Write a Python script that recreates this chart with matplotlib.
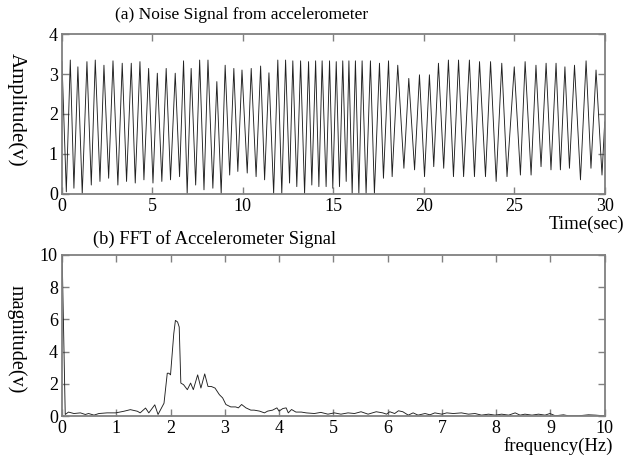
"""
Accelerometer noise signal and its FFT, two stacked panels.
"""
import numpy as np
import matplotlib
matplotlib.use("Agg")
import matplotlib.pyplot as plt

plt.rcParams['font.family'] = ['Liberation Serif', 'DejaVu Serif']

# (a) signal: peaks and troughs
peak_t = [0.0, 0.46, 0.88, 1.38, 1.84, 2.32, 2.82, 3.33, 3.83, 4.31, 4.79,
          5.27, 5.76, 6.26, 6.72, 7.14, 7.61, 8.07, 8.56, 9.02, 9.50, 9.95,
          10.46, 10.98, 11.44, 11.93, 12.36, 12.76, 13.19, 13.63, 14.02, 14.38,
          14.79, 15.16, 15.52, 15.86, 16.22, 16.59, 17.05, 17.55, 18.05, 18.56,
          19.17, 19.76, 20.31, 20.81, 21.36, 21.92, 22.52, 23.08, 23.69, 24.31,
          25.0, 25.6, 26.2, 26.76, 27.31, 27.8, 28.33, 28.97, 29.52]
peak_v = [3.31, 3.35, 3.18, 3.31, 3.35, 3.22, 3.33, 3.27, 3.27, 3.31, 3.14,
          3.02, 3.14, 3.02, 3.33, 3.14, 3.35, 3.35, 2.81, 3.22, 3.14, 3.10,
          3.14, 3.20, 3.03, 3.35, 3.35, 3.33, 3.33, 3.31, 3.33, 3.33,
          3.33, 3.31, 3.33, 3.33, 3.33, 3.33, 3.33, 3.27, 3.33, 3.22,
          2.89, 2.98, 2.98, 3.27, 3.35, 3.35, 3.35, 3.31, 3.31, 3.27,
          3.18, 3.31, 3.22, 3.27, 3.27, 3.18, 3.22, 3.33, 3.10]
trough_t = [0.24, 0.66, 1.12, 1.62, 2.10, 2.58, 3.09, 3.57, 4.05, 4.53,
            5.03, 5.52, 6.0, 6.5, 6.92, 7.39, 7.85, 8.34, 8.8, 9.27, 9.72,
            10.24, 10.73, 11.2, 11.7, 12.15, 12.58, 12.98, 13.41, 13.81, 14.2,
            14.6, 14.97, 15.34, 15.71, 16.04, 16.41, 16.81, 17.27, 17.77, 18.25,
            18.9, 19.49, 20.04, 20.55, 21.1, 21.64, 22.2, 22.8, 23.41, 24.0,
            24.6, 25.34, 25.93, 26.48, 27.03, 27.55, 28.05, 28.66, 29.24, 29.85]
trough_v = [0.05, 0.14, 0.0, 0.22, 0.31, 0.39, 0.22, 0.31, 0.27, 0.35,
            0.27, 0.31, 0.35, 0.43, 0.0, 0.22, 0.10, 0.14, 0.0, 0.47, 0.56,
            0.52, 0.43, 0.35, 0.0, 0.0, 0.27, 0.18, 0.0, 0.22, 0.18,
            0.18, 0.14, 0.18, 0.31, 0.0, 0.0, 0.0, 0.0, 0.39, 0.43,
            0.64, 0.60, 0.43, 0.68, 0.64, 0.43, 0.43, 0.43, 0.43, 0.31,
            0.43, 0.47, 0.47, 0.68, 0.60, 0.60, 0.64, 0.35, 0.64, 0.47]
end_t = [30.0]
end_v = [1.8]

# (b) FFT magnitude
freq = [0.0, 0.06, 0.12, 0.22, 0.34, 0.43, 0.49, 0.59, 0.68, 0.83, 0.99,
        1.14, 1.26, 1.39, 1.44, 1.54, 1.60, 1.71, 1.77, 1.88, 1.94, 1.97,
        2.0, 2.06, 2.09, 2.13, 2.16, 2.19, 2.24, 2.31, 2.37, 2.42, 2.5,
        2.56, 2.63, 2.69, 2.75, 2.82, 2.9, 2.96, 3.02, 3.11, 3.2, 3.25,
        3.31, 3.39, 3.48, 3.54, 3.64, 3.73, 3.79, 3.88, 3.96, 4.0, 4.07,
        4.13, 4.17, 4.23, 4.31, 4.41, 4.5, 4.65, 4.77, 4.9, 5.02, 5.14,
        5.27, 5.39, 5.51, 5.64, 5.79, 5.91, 5.98, 6.04, 6.13, 6.2, 6.28,
        6.38, 6.47, 6.56, 6.69, 6.78, 6.87, 7.0, 7.09, 7.21, 7.36, 7.49,
        7.61, 7.73, 7.86, 7.98, 8.1, 8.23, 8.35, 8.44, 8.53, 8.66, 8.78,
        8.9, 8.99, 9.09, 9.24, 9.33, 9.52, 9.7, 9.83, 9.98, 10.0]
mag = [10.5, 0.10, 0.25, 0.16, 0.20, 0.10, 0.16, 0.06, 0.16, 0.20, 0.20,
       0.30, 0.40, 0.30, 0.20, 0.50, 0.20, 0.70, 0.10, 0.80, 2.66, 2.66,
       2.56, 5.12, 5.94, 5.84, 5.53, 2.05, 1.95, 1.64, 2.05, 1.64, 2.56,
       1.74, 2.62, 1.84, 1.84, 1.74, 1.33, 1.13, 0.72, 0.57, 0.57, 0.51,
       0.72, 0.51, 0.37, 0.37, 0.31, 0.20, 0.31, 0.37, 0.51, 0.31, 0.47,
       0.51, 0.20, 0.41, 0.25, 0.25, 0.20, 0.16, 0.23, 0.12, 0.20, 0.12,
       0.20, 0.16, 0.27, 0.12, 0.27, 0.20, 0.12, 0.27, 0.16, 0.33, 0.27,
       0.06, 0.20, 0.06, 0.16, 0.08, 0.20, 0.12, 0.20, 0.16, 0.20, 0.12,
       0.16, 0.06, 0.12, 0.06, 0.12, 0.06, 0.20, 0.06, 0.12, 0.06, 0.12,
       0.06, 0.16, 0.02, 0.08, 0.02, 0.02, 0.08, 0.06, 0.02, 0.02]

# interleave peaks/troughs into one trace
t = np.concatenate([peak_t, trough_t, end_t])
v = np.concatenate([peak_v, trough_v, end_v])
order = np.argsort(t)
t, v = t[order], v[order]

FS = 13
GREY = "#808080"


def style_axes(ax):
    for s in ax.spines.values():
        s.set_color(GREY)
        s.set_linewidth(1.3)
    ax.tick_params(direction="in", length=5, width=1, color=GREY,
                   top=True, right=True, labelsize=FS, pad=3)


fig = plt.figure(figsize=(6.26, 4.67), dpi=100)

ax1 = fig.add_axes([0.099, 0.585, 0.867, 0.342])
ax1.plot(t, v, color="#202020", lw=0.65)
ax1.set_xlim(0, 30)
ax1.set_ylim(0, 4)
ax1.set_xticks([0, 5, 10, 15, 20, 25, 30])
ax1.set_yticks([0, 1, 2, 3, 4])
style_axes(ax1)
fig.text(0.184, 0.967, "(a) Noise Signal from accelerometer", fontsize=12.5,
         va="center", ha="left")
fig.text(0.998, 0.519, "Time(sec)", fontsize=13.5, ha="right", va="center")
fig.text(0.026, 0.765, "Amplitude(v)", fontsize=15, rotation=-90,
         ha="center", va="center")

ax2 = fig.add_axes([0.099, 0.109, 0.867, 0.345])
ax2.plot(freq, mag, color="#202020", lw=0.65)
ax2.set_xlim(0, 10)
ax2.set_ylim(0, 10)
ax2.set_xticks(range(0, 11))
ax2.set_yticks([0, 2, 4, 6, 8, 10])
style_axes(ax2)
fig.text(0.149, 0.489, "(b) FFT of Accelerometer Signal", fontsize=13.3,
         va="center", ha="left")
fig.text(0.979, 0.045, "frequency(Hz)", fontsize=13.5, ha="right", va="center")
fig.text(0.026, 0.274, "magnitude(v)", fontsize=14.5, rotation=-90,
         ha="center", va="center")

fig.savefig("out.png", dpi=100)
